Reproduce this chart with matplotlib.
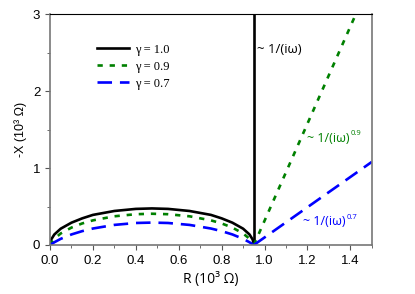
import numpy as np
import matplotlib.pyplot as plt

# Depressed semicircles (ZARC arcs), R in 10^3 Ohm
r_arc = [0, 0.005, 0.02, 0.05, 0.1, 0.15, 0.2, 0.3, 0.4, 0.475,
         0.55, 0.65, 0.75, 0.8, 0.85, 0.9, 0.93, 0.945, 0.95]
x_g10 = [0, 0.069, 0.136, 0.212, 0.290, 0.346, 0.391, 0.442, 0.469, 0.475,
         0.469, 0.442, 0.391, 0.346, 0.290, 0.212, 0.136, 0.069, 0]
x_g09 = [0, 0.027, 0.081, 0.150, 0.226, 0.280, 0.320, 0.373, 0.400, 0.406,
         0.400, 0.373, 0.320, 0.280, 0.226, 0.150, 0.081, 0.027, 0]
x_g07 = [0, 0.009, 0.035, 0.080, 0.137, 0.180, 0.214, 0.261, 0.286, 0.291,
         0.286, 0.261, 0.214, 0.180, 0.137, 0.080, 0.035, 0.009, 0]

# low-frequency tails starting at R = 0.95
r_tail_10 = [0.95, 0.95]
x_tail_10 = [0, 3.2]
r_tail_09 = [0.95, 1.5]
x_tail_09 = [0, 3.47]
r_tail_07 = [0.95, 1.5]
x_tail_07 = [0, 1.08]

dot = (0, (2, 2.6))
dash = (0, (5.5, 3))

fig = plt.figure(figsize=(4.15, 2.94), dpi=100)
ax = fig.add_axes([0.1205, 0.1667, 0.7755, 0.7853])

ax.plot(r_arc, x_g10, color="black", lw=1.9, label="γ = 1.0")
ax.plot(r_arc, x_g09, color="green", lw=1.9, linestyle=dot, label="γ = 0.9")
ax.plot(r_arc, x_g07, color="blue", lw=1.9, linestyle=dash, label="γ = 0.7")
ax.plot(r_tail_10, x_tail_10, color="black", lw=1.9)
ax.plot(r_tail_09, x_tail_09, color="green", lw=1.9, linestyle=dot)
ax.plot(r_tail_07, x_tail_07, color="blue", lw=1.9, linestyle=dash)

ax.set_xlim(0, 1.5)
ax.set_ylim(0, 3)
ax.set_xticks(np.arange(0, 1.41, 0.2))
ax.set_xticks(np.arange(0, 1.51, 0.1), minor=True)
ax.set_yticks([0, 1, 2, 3])
ax.set_yticks([0.5, 1.5, 2.5], minor=True)
ax.set_xticklabels(["0.0", "0.2", "0.4", "0.6", "0.8", "1.0", "1.2", "1.4"],
                   family="Liberation Sans", fontsize=9.5)
ax.set_yticklabels(["0", "1", "2", "3"], family="Liberation Sans", fontsize=9.5)
ax.tick_params(which="both", direction="out", color="#555555", top=False, right=False)
ax.tick_params(which="major", length=3.5)
ax.tick_params(which="minor", length=2)
for s in ["left", "right", "bottom"]:
    ax.spines[s].set_color("#777777")
    ax.spines[s].set_linewidth(1.2)
ax.spines["top"].set_color("black")

ax.set_xlabel("R (10³ Ω)", family="Open Sans", fontsize=10)
ax.set_ylabel("-X (10³ Ω)", family="Liberation Sans", fontsize=9)

ax.text(0.965, 2.5, "~ 1/(iω)", color="black", family="Open Sans", fontsize=9.5)
t9 = ax.text(1.2, 1.34, "~ 1/(iω)", color="green", family="Open Sans", fontsize=9)
ax.annotate("0.9", xy=(1, 1), xycoords=t9, xytext=(0.5, 1), textcoords="offset points",
            ha="left", va="top", color="green", family="Open Sans", fontsize=5.5)
t7 = ax.text(1.18, 0.26, "~ 1/(iω)", color="blue", family="Open Sans", fontsize=9)
ax.annotate("0.7", xy=(1, 1), xycoords=t7, xytext=(0.5, 1), textcoords="offset points",
            ha="left", va="top", color="blue", family="Open Sans", fontsize=5.5)

leg = ax.legend(loc="upper left", bbox_to_anchor=(0.11, 0.92), frameon=False,
                prop={"family": "Liberation Serif", "size": 9},
                handlelength=2.6, labelspacing=0.4, handletextpad=0.5)

fig.savefig("out.png", dpi=100)
